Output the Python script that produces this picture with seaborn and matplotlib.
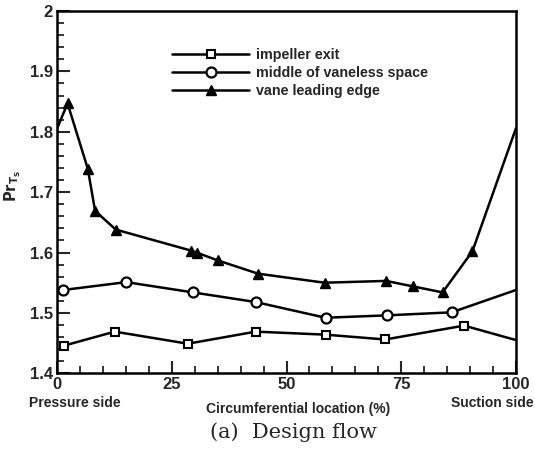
import matplotlib
matplotlib.use("Agg")
import matplotlib.pyplot as plt
from matplotlib.ticker import MultipleLocator
import numpy as np
import pandas as pd
import seaborn as sns

# ---- data ----
tri_x = [0, 2.3, 6.7, 8.3, 12.8, 29.3, 30.4, 35.0, 43.8, 58.3, 71.7, 77.5, 84.0, 90.5, 100]
tri_y = [1.805, 1.847, 1.739, 1.669, 1.638, 1.603, 1.600, 1.587, 1.565, 1.550, 1.553, 1.544, 1.534, 1.602, 1.806]
cir_x = [1.4, 15.1, 29.6, 43.3, 58.5, 72.0, 86.0, 100]
cir_y = [1.538, 1.551, 1.534, 1.518, 1.492, 1.496, 1.501, 1.538]
sq_x = [1.6, 12.6, 28.5, 43.3, 58.5, 71.5, 88.7, 100]
sq_y = [1.446, 1.469, 1.449, 1.469, 1.464, 1.456, 1.479, 1.455]
labels = ["impeller exit", "middle of vaneless space", "vane leading edge"]
x_ticks = [0, 25, 50, 75, 100]
y_ticks = [1.4, 1.5, 1.6, 1.7, 1.8, 1.9, 2.0]
y_ticklabels = ["1.4", "1.5", "1.6", "1.7", "1.8", "1.9", "2"]

sns.set_style("white")
plt.rcParams['font.family'] = ['Liberation Sans', 'DejaVu Sans']

fig = plt.figure(figsize=(5.35, 4.57), dpi=100)
ax = fig.add_axes([57/535, 1 - 373.3/457, (516-57)/535, (373.3-11)/457])

df_sq = pd.DataFrame({"x": sq_x, "y": sq_y})
df_ci = pd.DataFrame({"x": cir_x, "y": cir_y})
df_tr = pd.DataFrame({"x": tri_x, "y": tri_y})

common = dict(color="black", linewidth=1.8, ax=ax, legend=False)
sns.lineplot(data=df_sq, x="x", y="y", marker="s", markersize=5.2, markerfacecolor="white",
             markeredgecolor="black", markeredgewidth=1.5, markevery=list(range(0, 7)), **common)
sns.lineplot(data=df_ci, x="x", y="y", marker="o", markersize=7.2, markerfacecolor="white",
             markeredgecolor="black", markeredgewidth=1.6, markevery=list(range(0, 7)), **common)
sns.lineplot(data=df_tr, x="x", y="y", marker="^", markersize=7.8, markerfacecolor="black",
             markeredgecolor="black", markeredgewidth=1.0, markevery=list(range(1, 14)), **common)

ax.set_xlim(0, 100)
ax.set_ylim(1.4, 2.0)
ax.set_xticks(x_ticks)
ax.set_xticklabels([str(t) for t in x_ticks], fontsize=12, fontweight="bold")
ax.set_yticks(y_ticks)
ax.set_yticklabels(y_ticklabels, fontsize=12, fontweight="bold")
ax.xaxis.set_minor_locator(MultipleLocator(5))
ax.yaxis.set_minor_locator(MultipleLocator(0.02))
ax.tick_params(axis="both", which="major", direction="in", length=9, width=1.5,
               top=False, right=False, left=True, bottom=True, pad=3)
ax.tick_params(axis="both", which="minor", direction="in", length=5, width=1.3,
               top=False, right=False, left=True, bottom=True)
ax.set_xlabel("")
ax.set_ylabel("")
for s in ax.spines.values():
    s.set_linewidth(1.8)
    s.set_color("black")

# legend
lines = ax.get_lines()
leg = ax.legend(lines[:3], labels, loc="upper left", bbox_to_anchor=(0.2505, 0.899),
                frameon=False, handlelength=5.4, handletextpad=0.5,
                labelspacing=0.3, borderaxespad=0, borderpad=0, numpoints=1,
                prop={"weight": "bold", "size": 10.3})

# y-axis label
fig.text(13/535, 1 - 186/457, r"$\mathbf{Pr}_{\mathbf{T_S}}$", rotation=90,
         ha="center", va="center", fontsize=10.5)

# below-axis texts
fig.text(29/535, 1 - 403/457, "Pressure side", ha="left", va="center", fontsize=10, fontweight="bold")
fig.text(534/535, 1 - 403/457, "Suction side", ha="right", va="center", fontsize=10, fontweight="bold")
fig.text(298/535, 1 - 409/457, "Circumferential location (%)", ha="center", va="center",
         fontsize=10, fontweight="bold")
fig.text(293/535, 1 - 432/457, "(a)  Design flow", ha="center", va="center", fontsize=15,
         family=["DejaVu Serif"])

fig.savefig("out.png", dpi=100)
